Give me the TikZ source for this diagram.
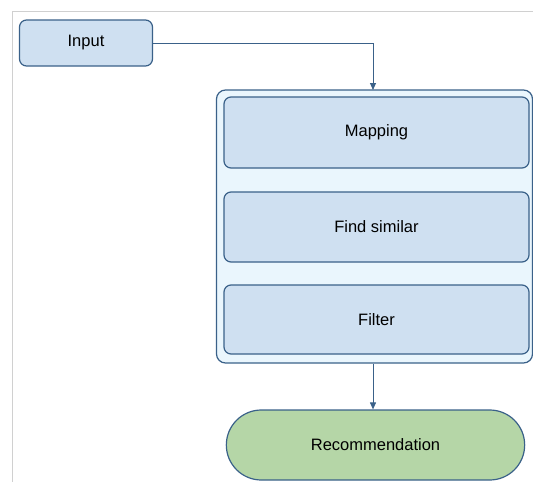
\documentclass[tikz,border=0pt]{standalone}
\usepackage{fontspec}
\setmainfont{Liberation Sans}
\usetikzlibrary{arrows.meta,shapes.misc}
\definecolor{boxfill}{HTML}{CFE0F1}
\definecolor{boxline}{HTML}{3A6189}
\definecolor{contfill}{HTML}{EAF6FD}
\definecolor{greenfill}{HTML}{B5D6A7}
\definecolor{framegray}{HTML}{D0D0D0}
\begin{document}
\begin{tikzpicture}[x=1pt,y=-1pt,
  lbl/.style={font=\fontsize{16.5}{19}\selectfont},
  stepbox/.style={draw=boxline,fill=boxfill,line width=1.2pt,rounded corners=7pt,lbl},
  conn/.style={draw=boxline,line width=1pt,-{Triangle[length=7pt,width=6pt]}}]
\useasboundingbox (0,0) rectangle (533,482);
\draw[framegray,line width=1pt] (12,482) -- (12,11.5) -- (533,11.5);
\node[stepbox,minimum width=133pt,minimum height=46pt] (input) at (86,43) {Input};
\node[draw=boxline,fill=contfill,line width=1.2pt,rounded corners=9pt,minimum width=316pt,minimum height=273pt] (cont) at (374.5,226.5) {};
\node[stepbox,minimum width=305pt,minimum height=71pt] (map) at (376.5,132.5) {Mapping};
\node[stepbox,minimum width=305pt,minimum height=70pt] (find) at (376.5,227) {Find similar};
\node[stepbox,minimum width=305pt,minimum height=69pt] (filter) at (376.5,319.5) {Filter};
\node[draw=boxline,fill=greenfill,line width=1.2pt,rounded rectangle,minimum width=305pt,minimum height=70pt,lbl] (rec) at (375.5,445) {Recommendation};
\coordinate (top) at (373,90);
\draw[conn] (input.east) -| (top);
\draw[conn] (cont.south -| top) -- (rec.north -| top);
\end{tikzpicture}
\end{document}
